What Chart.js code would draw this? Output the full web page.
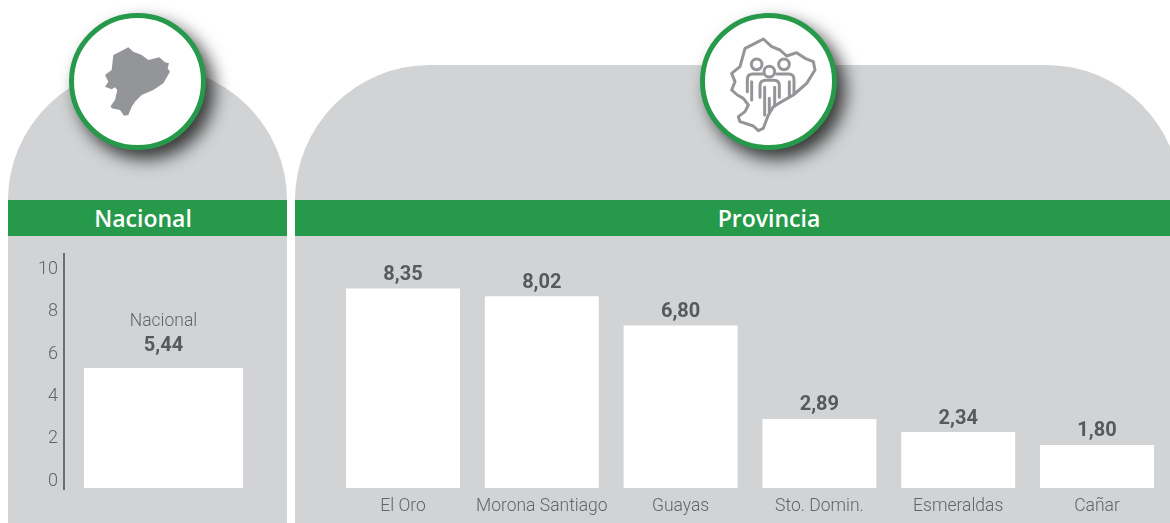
<!DOCTYPE html>
<html lang="es">
<head>
<meta charset="utf-8">
<title>Nacional y Provincia</title>
<script src="https://cdn.jsdelivr.net/npm/chart.js@4"></script>
<style>
  html,body{margin:0;padding:0;background:#fff;width:1170px;height:523px;overflow:hidden;font-family:Roboto,sans-serif}
  .panel{position:absolute;background:#d1d3d4}
  #pL{left:8px;top:65px;width:279px;height:458px;border-radius:139px 139px 0 0/135px 135px 0 0}
  #pR{left:295px;top:65px;width:886px;height:458px;border-radius:135px 135px 0 0}
  .band{position:absolute;top:200px;height:36px;background:#269a4a;color:#fff;font:600 23px/36px "Open Sans",sans-serif;text-align:center}
  #bL{left:8px;width:279px;padding-right:9px;box-sizing:border-box}
  #bR{left:295px;width:875px;padding-left:73px;box-sizing:border-box}
  .circle{position:absolute;top:13px;width:137px;height:137px;box-sizing:border-box;border:5.5px solid #269a4a;border-radius:50%;background:#fff;box-shadow:8px 9px 17px rgba(0,0,0,.75)}
  #cL{left:68.5px}
  #cR{left:700px}
  svg.icon{position:absolute;top:0;height:160px}
  canvas{position:absolute}
  #wL{position:absolute;left:8px;top:236px;width:279px;height:287px}
  #wR{position:absolute;left:295px;top:236px;width:875px;height:287px}
</style>
</head>
<body>
<div class="panel" id="pL"></div>
<div class="panel" id="pR"></div>
<div class="band" id="bL">Nacional</div>
<div class="band" id="bR">Provincia</div>
<div class="circle" id="cL"></div>
<div class="circle" id="cR"></div>

<svg class="icon" style="left:0;width:300px" viewBox="0 0 900 480">
  <path fill="#939598" d="M385 142 400 155 425 165 445 180 478 172 495 187 507 190 503 205 510 215 490 250 460 270 425 285 405 305 395 320 385 345 372 347 360 330 335 325 332 318 345 300 352 270 345 262 335 268 315 260 325 245 315 225 335 210 340 165 360 155Z"/>
</svg>
<svg class="icon" style="left:680px;width:200px" viewBox="0 0 600 480">
  <g fill="none" stroke="#939598" stroke-width="9" stroke-linejoin="round" stroke-linecap="round">
    <path d="M250 117 275 140 300 150 320 168 350 158 375 175 400 185 405 210 380 250 340 285 305 305 280 320 265 345 250 385 235 392 220 378 180 365 175 350 195 335 205 315 190 295 172 285 155 270 165 245 155 220 180 200 195 145 225 130Z"/>
    <circle cx="230" cy="193" r="16"/>
    <circle cx="312" cy="193" r="16"/>
    <path d="M202 275V238Q202 222 218 222H248M215 245V300"/>
    <path d="M342 280V238Q342 222 326 222H290M328 245V285"/>
    <path fill="#fff" d="M240 292V258Q240 241 256 241H282Q298 241 298 258V292"/>
    <circle cx="268" cy="215" r="16" fill="#fff"/>
    <path d="M254 262V345M284 262V318M268 295V335"/>
  </g>
</svg>

<div id="wL"><canvas id="chartL" width="279" height="287"></canvas></div>
<div id="wR"><canvas id="chartR" width="875" height="287"></canvas></div>

<script>
const nationalCategories = ["Nacional"];
const nationalValues = [5.44];
const nationalTicks = [0, 2, 4, 6, 8, 10];

const provinceCategories = ["El Oro", "Morona Santiago", "Guayas", "Sto. Domin.", "Esmeraldas", "Cañar"];
const provinceValues = [8.35, 8.02, 6.80, 2.89, 2.34, 1.80];

const TEXT_LIGHT = "#636466";
const TEXT_DARK = "#58595b";
const BAR = "#ffffff";
const fmt = v => v.toFixed(2).replace(".", ",");

const valueLabels = {
  id: "valueLabels",
  afterDatasetsDraw(chart, args, opts) {
    const {ctx} = chart;
    const meta = chart.getDatasetMeta(0);
    ctx.save();
    ctx.textAlign = "center";
    ctx.textBaseline = "middle";
    meta.data.forEach((bar, i) => {
      ctx.fillStyle = TEXT_DARK;
      ctx.font = "700 20px Roboto, sans-serif";
      ctx.fillText(fmt(chart.data.datasets[0].data[i]), bar.x, bar.y - opts.gap);
      if (opts.showName) {
        ctx.fillStyle = TEXT_LIGHT;
        ctx.font = "300 17.5px Roboto, sans-serif";
        ctx.fillText(chart.data.labels[i], bar.x, bar.y - opts.gap - 25);
      }
    });
    ctx.restore();
  }
};

new Chart(document.getElementById("chartL"), {
  type: "bar",
  data: {
    labels: nationalCategories,
    datasets: [{
      data: nationalValues,
      backgroundColor: BAR,
      borderWidth: 0,
      yAxisID: "yBar",
      barPercentage: 0.8,
      categoryPercentage: 1
    }]
  },
  options: {
    responsive: false,
    animation: false,
    layout: {padding: {top: 18, bottom: 34, right: 24, left: 0}},
    plugins: {
      legend: {display: false},
      tooltip: {enabled: false},
      valueLabels: {gap: 21.5, showName: true}
    },
    scales: {
      x: {display: false},
      yBar: {display: false, min: -0.045, max: 10.6},
      y: {
        position: "left",
        min: -0.36,
        max: 10.72,
        afterBuildTicks(s) { s.ticks = nationalTicks.map(v => ({value: v})); },
        afterFit(s) { s.width = 56; },
        grid: {display: false, drawTicks: false},
        border: {display: true, color: "#6d6e71", width: 2},
        ticks: {
          padding: 6,
          color: TEXT_LIGHT,
          font: {family: "Roboto", weight: "300", size: 18}
        }
      }
    }
  },
  plugins: [valueLabels]
});

new Chart(document.getElementById("chartR"), {
  type: "bar",
  data: {
    labels: provinceCategories,
    datasets: [{
      data: provinceValues,
      backgroundColor: BAR,
      borderWidth: 0,
      barPercentage: 0.821,
      categoryPercentage: 1
    }]
  },
  options: {
    responsive: false,
    animation: false,
    layout: {padding: {top: 13, bottom: 0, left: 38.6, right: 3.6}},
    plugins: {
      legend: {display: false},
      tooltip: {enabled: false},
      valueLabels: {gap: 13.5, showName: false}
    },
    scales: {
      y: {display: false, min: 0, max: 10},
      x: {
        afterFit(s) { s.height = 35; },
        grid: {display: false, drawTicks: false},
        border: {display: false},
        ticks: {
          padding: 8,
          autoSkip: false,
          maxRotation: 0,
          color: TEXT_LIGHT,
          font: {family: "Roboto", weight: "300", size: 17.5}
        }
      }
    }
  },
  plugins: [valueLabels]
});
</script>
</body>
</html>
